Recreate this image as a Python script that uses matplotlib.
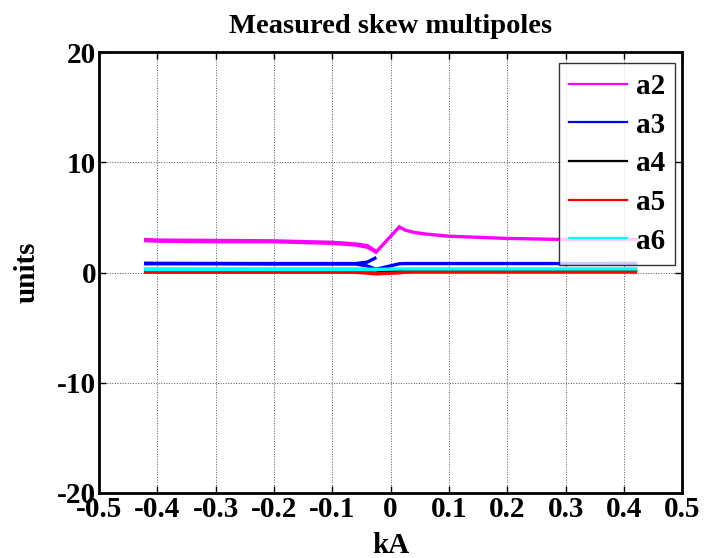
import numpy as np
import matplotlib
matplotlib.use("Agg")
import matplotlib.pyplot as plt

# ---- data ----
# full sweep (through zero)
current_full = [-0.42, -0.40, -0.30, -0.20, -0.10, -0.06, -0.04, -0.025,
                0.015, 0.025, 0.04, 0.06, 0.10, 0.20, 0.30, 0.40, 0.42]
a2_full = [2.90, 2.85, 2.80, 2.80, 2.65, 2.50, 2.30, 1.85,
           4.15, 3.85, 3.65, 3.50, 3.30, 3.10, 3.00, 3.00, 3.00]
a3_full = [0.80, 0.80, 0.80, 0.78, 0.78, 0.78, 0.60, 0.30,
           0.80, 0.82, 0.82, 0.82, 0.82, 0.82, 0.82, 0.83, 0.83]
a4_full = [0.22, 0.22, 0.22, 0.22, 0.22, 0.22, 0.20, 0.15,
           0.20, 0.22, 0.22, 0.22, 0.22, 0.22, 0.22, 0.22, 0.22]
a5_full = [0.05, 0.05, 0.05, 0.05, 0.05, 0.03, -0.05, -0.12,
           -0.02, 0.03, 0.05, 0.05, 0.05, 0.05, 0.05, 0.05, 0.05]
a6_full = [0.33, 0.33, 0.33, 0.33, 0.33, 0.33, 0.30, 0.28,
           0.33, 0.33, 0.33, 0.33, 0.33, 0.33, 0.33, 0.33, 0.33]

# partial sweep (negative side, ends before zero)
current_neg = [-0.42, -0.40, -0.30, -0.20, -0.10, -0.06, -0.04, -0.027]
a2_neg = [3.00, 2.95, 2.92, 2.88, 2.75, 2.60, 2.45, 2.00]
a3_neg = [0.85, 0.84, 0.83, 0.82, 0.82, 0.82, 0.95, 1.30]
a4_neg = [0.24, 0.24, 0.24, 0.24, 0.24, 0.24, 0.24, 0.24]
a5_neg = [0.07, 0.07, 0.07, 0.07, 0.07, 0.07, 0.05, 0.00]
a6_neg = [0.36, 0.36, 0.36, 0.36, 0.36, 0.36, 0.36, 0.36]

labels = ["a2", "a3", "a4", "a5", "a6"]
colors = ["#ff00ff", "#0000ff", "#000000", "#ff0000", "#00ffff"]

x_ticks = [-0.5, -0.4, -0.3, -0.2, -0.1, 0, 0.1, 0.2, 0.3, 0.4, 0.5]
x_ticklabels = ["-0.5", "-0.4", "-0.3", "-0.2", "-0.1", "0", "0.1", "0.2", "0.3", "0.4", "0.5"]
y_ticks = [-20, -10, 0, 10, 20]
y_ticklabels = ["-20", "-10", "0", "10", "20"]

plt.rcParams['font.family'] = ['Liberation Serif', 'DejaVu Serif']
plt.rcParams['font.weight'] = 'bold'
plt.rcParams['axes.unicode_minus'] = False

FS = 21

fig = plt.figure(figsize=(7.07, 5.58), dpi=100)
ax = fig.add_axes([0.140, 0.1165, 0.825, 0.790])

full = [a2_full, a3_full, a4_full, a5_full, a6_full]
neg = [a2_neg, a3_neg, a4_neg, a5_neg, a6_neg]
handles = []
for lab, col, yf, yn in zip(labels, colors, full, neg):
    h, = ax.plot(current_full, yf, color=col, lw=2.4, label=lab, solid_joinstyle='miter')
    ax.plot(current_neg, yn, color=col, lw=2.4)
    handles.append(h)

ax.set_xlim(-0.5, 0.5)
ax.set_ylim(-20, 20)
ax.set_xticks(x_ticks)
ax.set_xticklabels(x_ticklabels)
ax.set_yticks(y_ticks)
ax.set_yticklabels(y_ticklabels)
ax.tick_params(direction='in', length=5, width=1, top=True, right=True,
               labelsize=FS, pad=2)
for lbl in ax.get_xticklabels() + ax.get_yticklabels():
    lbl.set_fontweight('bold')
for s in ax.spines.values():
    s.set_linewidth(2.0)

ax.grid(True, linestyle=':', color='#555555', linewidth=0.7)

ax.set_title("Measured skew multipoles", fontsize=20.5, fontweight='bold', pad=14)
ax.set_xlabel("kA", fontsize=FS, fontweight='bold', labelpad=7)
ax.set_ylabel("units", fontsize=FS, fontweight='bold', labelpad=12)

leg = ax.legend(handles=handles, loc='upper right', bbox_to_anchor=(0.988, 0.976),
                fontsize=FS, frameon=True, fancybox=False, edgecolor='black',
                handlelength=2.0, handletextpad=0.3, labelspacing=0.4,
                borderpad=0.35, borderaxespad=0.0)
leg.get_frame().set_linewidth(1.0)
for t in leg.get_texts():
    t.set_fontweight('bold')
for l in leg.get_lines():
    l.set_linewidth(1.6)

fig.savefig("out.png", dpi=100)
